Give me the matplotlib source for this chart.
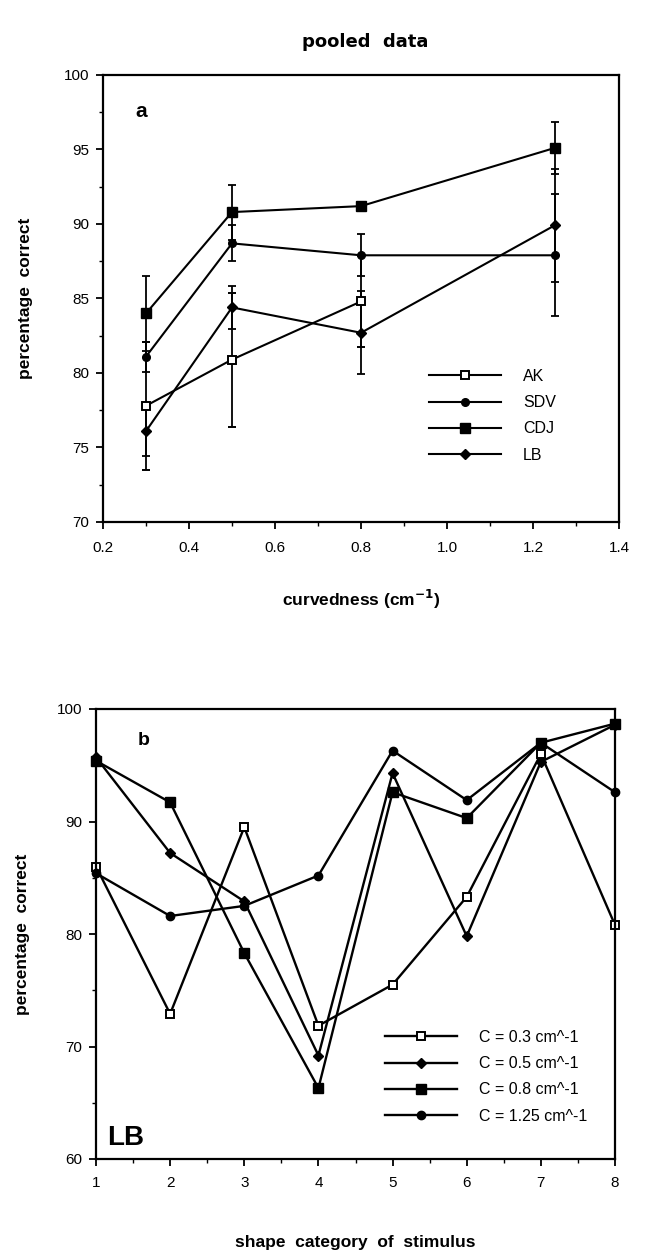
import matplotlib
matplotlib.use("Agg")
import matplotlib.pyplot as plt
import numpy as np
from matplotlib.ticker import MultipleLocator, FormatStrFormatter

plt.rcParams['font.family'] = ['Liberation Sans', 'DejaVu Sans']

# ---- Panel a data ----
curvedness = [0.3, 0.5, 0.8, 1.25]
subjects = ["AK", "SDV", "CDJ", "LB"]
ak_vals = [77.8, 80.9, 84.8, np.nan]
sdv_vals = [81.1, 88.7, 87.9, 87.9]
cdj_vals = [84.0, 90.8, 91.2, 95.1]
lb_vals = [76.1, 84.4, 82.7, 89.9]
ak_err = [4.3, 4.5, 3.05, np.nan]
sdv_err = [1.0, 1.2, 1.4, 4.1]
cdj_err = [2.5, 1.85, 0.0, 1.75]
lb_err = [1.7, 1.45, 2.8, 3.8]

# ---- Panel b data ----
shape_category = [1, 2, 3, 4, 5, 6, 7, 8]
curv_labels = ["C = 0.3 cm^-1", "C = 0.5 cm^-1", "C = 0.8 cm^-1", "C = 1.25 cm^-1"]
c03 = [86.0, 72.9, 89.5, 71.85, 75.5, 83.3, 96.0, 80.8]
c05 = [95.7, 87.2, 82.9, 69.2, 94.3, 79.8, 95.3, 98.6]
c08 = [95.4, 91.7, 78.3, 66.3, 92.6, 90.3, 97.0, 98.7]
c125 = [85.4, 81.6, 82.5, 85.2, 96.3, 91.9, 97.0, 92.6]

W, H = 647, 1253
fig = plt.figure(figsize=(W / 100, H / 100), dpi=100)

styles = [
    dict(marker='s', ms=5.5, mfc='white', mec='black', mew=1.4),
    dict(marker='o', ms=5.5, mfc='black', mec='black'),
    dict(marker='s', ms=7.5, mfc='black', mec='black'),
    dict(marker='D', ms=5.5, mfc='black', mec='black'),
]

def style_axes(ax, xpad):
    for s in ax.spines.values():
        s.set_linewidth(1.6)
    ax.tick_params(which='major', direction='out', length=5, width=1.3, labelsize=11, pad=5)
    ax.tick_params(which='minor', direction='out', length=3, width=1.0)
    ax.tick_params(axis='x', which='major', pad=xpad)

# ---- Panel a ----
axa = fig.add_axes([103 / W, 1 - 522 / H, 516 / W, 447 / H])
vals_a = [ak_vals, sdv_vals, cdj_vals, lb_vals]
errs_a = [ak_err, sdv_err, cdj_err, lb_err]
for name, v, e, st in zip(subjects, vals_a, errs_a, styles):
    axa.errorbar(curvedness, v, yerr=e, color='black', lw=1.5, elinewidth=1.3,
                 capsize=3, capthick=1.3, label=name, **st)
axa.set_xlim(0.2, 1.4)
axa.set_ylim(70, 100)
axa.xaxis.set_major_locator(MultipleLocator(0.2))
axa.xaxis.set_minor_locator(MultipleLocator(0.1))
axa.xaxis.set_major_formatter(FormatStrFormatter('%.1f'))
axa.yaxis.set_major_locator(MultipleLocator(5))
axa.yaxis.set_minor_locator(MultipleLocator(2.5))
style_axes(axa, 8.5)
axa.text(0.062, 0.906, "a", transform=axa.transAxes, fontsize=15, fontweight='bold')
axa.set_ylabel("percentage  correct", fontsize=12.5, fontweight='bold', labelpad=22)
axa.set_xlabel("curvedness (cm$^{\\mathbf{-1}}$)", fontsize=12.5, fontweight='bold', labelpad=24)
handles, labels = axa.get_legend_handles_labels()
handles = [h[0] for h in handles]
axa.legend(handles, labels, loc='upper left', bbox_to_anchor=((429 - 103) / 516, (522 - 369) / 447),
           frameon=False, fontsize=11.5, handlelength=4.5, handletextpad=1.4,
           labelspacing=0.7, numpoints=1, borderaxespad=0, borderpad=0)

fig.text(0.565, 1 - 42 / H, "pooled  data", ha='center', va='center', fontsize=13,
         fontweight='bold', family='DejaVu Sans')

# ---- Panel b ----
axb = fig.add_axes([96 / W, 1 - 1159 / H, 519 / W, 450 / H])
vals_b = [c03, c05, c08, c125]
styles_b = [
    dict(marker='s', ms=5.5, mfc='white', mec='black', mew=1.4),
    dict(marker='D', ms=5, mfc='black', mec='black'),
    dict(marker='s', ms=7.5, mfc='black', mec='black'),
    dict(marker='o', ms=6, mfc='black', mec='black'),
]
for lab, v, st in zip(curv_labels, vals_b, styles_b):
    axb.plot(shape_category, v, color='black', lw=1.7, label=lab, clip_on=False, **st)
axb.set_xlim(1, 8)
axb.set_ylim(60, 100)
axb.xaxis.set_major_locator(MultipleLocator(1))
axb.xaxis.set_minor_locator(MultipleLocator(0.5))
axb.yaxis.set_major_locator(MultipleLocator(10))
axb.yaxis.set_minor_locator(MultipleLocator(5))
style_axes(axb, 7)
axb.text(0.081, 0.92, "b", transform=axb.transAxes, fontsize=14, fontweight='bold')
axb.text(0.021, 0.031, "LB", transform=axb.transAxes, fontsize=20, fontweight='bold')
axb.set_ylabel("percentage  correct", fontsize=12.5, fontweight='bold', labelpad=19)
axb.set_xlabel("shape  category  of  stimulus", fontsize=12.5, fontweight='bold', labelpad=33)
axb.legend(loc='upper left', bbox_to_anchor=((385 - 96) / 519, (1159 - 1030) / 450),
           frameon=False, fontsize=11.5, handlelength=4.5, handletextpad=1.4,
           labelspacing=0.7, numpoints=1, borderaxespad=0, borderpad=0)

fig.savefig("out.png", dpi=100)
